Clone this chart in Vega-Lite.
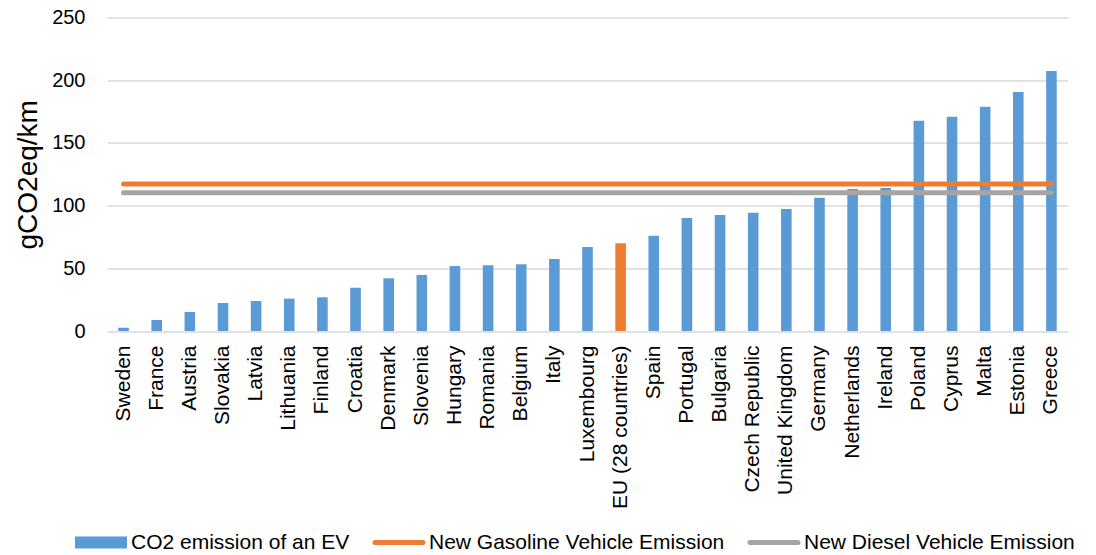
{
  "$schema": "https://vega.github.io/schema/vega-lite/v6.json",
  "autosize": "none",
  "padding": {"left": 107, "top": 17.5, "right": 28, "bottom": 224},
  "width": 961,
  "height": 313.5,
  "background": "white",
  "config": {
    "font": "Liberation Sans",
    "view": {"stroke": null},
    "axis": {"labelColor": "#000", "titleColor": "#000", "labelFont": "Liberation Sans", "titleFont": "Liberation Sans"},
    "legend": {"labelFont": "Liberation Sans"}
  },
  "data": {
    "values": [
      {"country": "Sweden", "ev": 2.6, "gasoline": 117.2, "diesel": 110.3},
      {"country": "France", "ev": 8.8, "gasoline": 117.2, "diesel": 110.3},
      {"country": "Austria", "ev": 15.2, "gasoline": 117.2, "diesel": 110.3},
      {"country": "Slovakia", "ev": 22.3, "gasoline": 117.2, "diesel": 110.3},
      {"country": "Latvia", "ev": 23.9, "gasoline": 117.2, "diesel": 110.3},
      {"country": "Lithuania", "ev": 25.8, "gasoline": 117.2, "diesel": 110.3},
      {"country": "Finland", "ev": 26.9, "gasoline": 117.2, "diesel": 110.3},
      {"country": "Croatia", "ev": 34.5, "gasoline": 117.2, "diesel": 110.3},
      {"country": "Denmark", "ev": 42.0, "gasoline": 117.2, "diesel": 110.3},
      {"country": "Slovenia", "ev": 44.7, "gasoline": 117.2, "diesel": 110.3},
      {"country": "Hungary", "ev": 51.8, "gasoline": 117.2, "diesel": 110.3},
      {"country": "Romania", "ev": 52.4, "gasoline": 117.2, "diesel": 110.3},
      {"country": "Belgium", "ev": 53.2, "gasoline": 117.2, "diesel": 110.3},
      {"country": "Italy", "ev": 57.4, "gasoline": 117.2, "diesel": 110.3},
      {"country": "Luxembourg", "ev": 67.0, "gasoline": 117.2, "diesel": 110.3},
      {"country": "EU (28 countries)", "ev": 69.9, "gasoline": 117.2, "diesel": 110.3},
      {"country": "Spain", "ev": 76.0, "gasoline": 117.2, "diesel": 110.3},
      {"country": "Portugal", "ev": 90.1, "gasoline": 117.2, "diesel": 110.3},
      {"country": "Bulgaria", "ev": 92.5, "gasoline": 117.2, "diesel": 110.3},
      {"country": "Czech Republic", "ev": 94.3, "gasoline": 117.2, "diesel": 110.3},
      {"country": "United Kingdom", "ev": 97.3, "gasoline": 117.2, "diesel": 110.3},
      {"country": "Germany", "ev": 106.3, "gasoline": 117.2, "diesel": 110.3},
      {"country": "Netherlands", "ev": 113.2, "gasoline": 117.2, "diesel": 110.3},
      {"country": "Ireland", "ev": 114.0, "gasoline": 117.2, "diesel": 110.3},
      {"country": "Poland", "ev": 167.7, "gasoline": 117.2, "diesel": 110.3},
      {"country": "Cyprus", "ev": 170.9, "gasoline": 117.2, "diesel": 110.3},
      {"country": "Malta", "ev": 178.9, "gasoline": 117.2, "diesel": 110.3},
      {"country": "Estonia", "ev": 190.6, "gasoline": 117.2, "diesel": 110.3},
      {"country": "Greece", "ev": 207.3, "gasoline": 117.2, "diesel": 110.3}
    ]
  },
  "encoding": {
    "x": {
      "field": "country",
      "type": "nominal",
      "sort": null,
      "scale": {"paddingInner": 0.68, "paddingOuter": 0.34},
      "axis": {
        "title": null,
        "labelAngle": -90,
        "labelFontSize": 21,
        "labelPadding": 14,
        "ticks": false,
        "tickSize": 0,
        "domain": false,
        "grid": false,
        "labelLimit": 300
      }
    }
  },
  "layer": [
    {
      "mark": {"type": "bar"},
      "encoding": {
        "y": {
          "field": "ev",
          "type": "quantitative",
          "scale": {"domain": [0, 250], "nice": false},
          "axis": {
            "title": "gCO2eq/km",
            "titleFontSize": 28,
            "titleFontWeight": "normal",
            "titlePadding": 9,
            "labelFontSize": 20,
            "labelPadding": 22,
            "ticks": false,
            "tickSize": 0,
            "domain": false,
            "values": [0, 50, 100, 150, 200, 250],
            "gridColor": "#D9D9D9",
            "gridWidth": 1.5
          }
        },
        "color": {
          "condition": {"test": "datum.country === 'EU (28 countries)'", "value": "#ED7D31"},
          "datum": "ev",
          "type": "nominal",
          "scale": {"domain": ["ev", "gasoline", "diesel"], "range": ["#5B9BD5", "#ED7D31", "#A5A5A5"]},
          "legend": {
            "title": null,
            "orient": "none",
            "direction": "horizontal",
            "columns": 3,
            "legendX": -32,
            "legendY": 499,
            "symbolSize": 2704,
            "labelFontSize": 21,
            "labelColor": "#000",
            "labelLimit": 400,
            "labelOffset": 4,
            "columnPadding": 22,
            "labelExpr": "datum.label === 'ev' ? 'CO2 emission of an EV' : datum.label === 'gasoline' ? 'New Gasoline Vehicle Emission' : 'New Diesel Vehicle Emission'",
            "encode": {
              "symbols": {
                "update": {
                  "shape": {"signal": "datum.value === 'ev' ? 'M-1,-0.23H1V0.23H-1Z' : 'M-0.92,-0.1H0.92A0.1,0.1 0 0 1 0.92,0.1H-0.92A0.1,0.1 0 0 1 -0.92,-0.1Z'"},
                  "fill": {"scale": "color", "field": "value"},
                  "fillOpacity": {"value": 1},
                  "opacity": {"value": 1},
                  "strokeWidth": {"value": 0}
                }
              }
            }
          }
        }
      }
    },
    {
      "transform": [{"fold": ["gasoline", "diesel"], "as": ["series", "value"]}],
      "mark": {"type": "line", "strokeWidth": 5, "strokeCap": "round"},
      "encoding": {
        "y": {"field": "value", "type": "quantitative"},
        "color": {"field": "series", "type": "nominal", "legend": {"title": null}},
        "detail": {"field": "series"}
      }
    }
  ]
}
